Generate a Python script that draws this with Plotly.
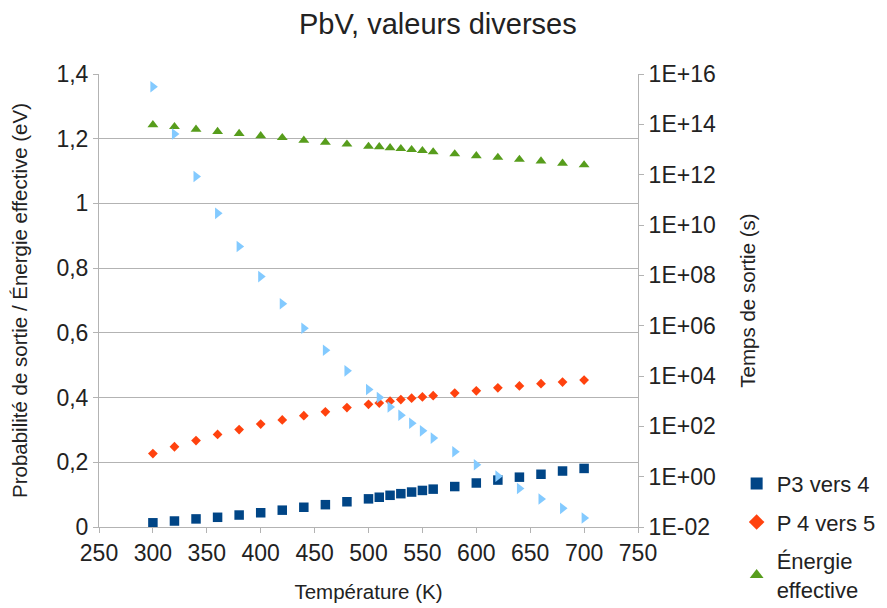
import plotly.graph_objects as go

temperature = [300, 320, 340, 360, 380, 400, 420, 440, 460, 480, 500, 510, 520, 530,
               540, 550, 560, 580, 600, 620, 640, 660, 680, 700]
p3_vers_4 = [0.013, 0.0185, 0.025, 0.030, 0.037, 0.044, 0.052, 0.061, 0.069, 0.078,
             0.087, 0.092, 0.098, 0.103, 0.108, 0.113, 0.117, 0.125, 0.136, 0.145,
             0.154, 0.163, 0.173, 0.181]
p4_vers_5 = [0.227, 0.248, 0.267, 0.286, 0.301, 0.318, 0.331, 0.344, 0.356, 0.369,
             0.379, 0.383, 0.389, 0.394, 0.398, 0.402, 0.406, 0.414, 0.421, 0.430,
             0.436, 0.443, 0.448, 0.454]
energie_effective = [1.243, 1.237, 1.229, 1.222, 1.216, 1.209, 1.203, 1.195, 1.189, 1.183,
                     1.176, 1.175, 1.172, 1.169, 1.166, 1.163, 1.159, 1.153, 1.147, 1.142,
                     1.136, 1.131, 1.124, 1.119]
temps_de_sortie = [3.1e15, 4.1e13, 8.5e11, 2.9e10, 1.4e9, 8.9e7, 7.4e6, 7.9e5, 1.05e5, 1.6e4,
                   2.9e3, 1.4e3, 590, 275, 132, 66, 34, 9.8, 3.0, 1.05,
                   0.34, 0.13, 0.055, 0.023]

right_tick_vals = [1e-2, 1e0, 1e2, 1e4, 1e6, 1e8, 1e10, 1e12, 1e14, 1e16]
right_tick_text = ["1E-02", "1E+00", "1E+02", "1E+04", "1E+06", "1E+08", "1E+10",
                   "1E+12", "1E+14", "1E+16"]

FONT = "Liberation Sans, Arial, sans-serif"
GRID = "#b3b3b3"
TXT = "#222222"

fig = go.Figure()
fig.add_trace(go.Scatter(x=temperature, y=temps_de_sortie, mode="markers", name="Temps de sortie",
                         marker=dict(symbol="triangle-right", size=10, color="#83caff"),
                         yaxis="y2", showlegend=False, legendgroup="g0"))
fig.add_trace(go.Scatter(x=temperature, y=p3_vers_4, mode="markers", name="P3 vers 4",
                         marker=dict(symbol="square", size=9.5, color="#004586"),
                         legendgroup="g1"))
fig.add_trace(go.Scatter(x=temperature, y=p4_vers_5, mode="markers", name="P 4 vers 5",
                         marker=dict(symbol="diamond", size=7.5, color="#ff420e"),
                         legendgroup="g2"))
fig.add_trace(go.Scatter(x=temperature, y=energie_effective, mode="markers",
                         name="Énergie<br>effective",
                         marker=dict(symbol="triangle-up", size=9.5, color="#579d1c"),
                         legendgroup="g3"))

fig.update_layout(
    width=879, height=600,
    paper_bgcolor="white", plot_bgcolor="white",
    separators=", ",
    font=dict(family=FONT, size=20, color=TXT),
    margin=dict(l=91, r=249, t=66, b=81, autoexpand=False),
    title=dict(text="PbV, valeurs diverses", x=0.489, xanchor="center", y=0.974, yanchor="middle",
               font=dict(size=29, color=TXT)),
    xaxis=dict(range=[250, 750], dtick=50, tick0=250, showgrid=False, zeroline=False,
               showline=True, linecolor=GRID, linewidth=1,
               ticks="outside", ticklen=5, tickcolor=GRID,
               tickfont=dict(size=23),
               title=dict(text="Température (K)", font=dict(size=20.5), standoff=20)),
    yaxis=dict(range=[0, 1.4], dtick=0.2, showgrid=True, gridcolor=GRID, zeroline=False,
               showline=True, linecolor=GRID, ticks="outside", ticklen=5, tickcolor=GRID,
               tickfont=dict(size=23),
               title=dict(text="Probabilité de sortie / Énergie effective (eV)",
                          font=dict(size=20.5), standoff=29)),
    yaxis2=dict(type="log", range=[-2, 16], overlaying="y", side="right",
                tickvals=right_tick_vals, ticktext=right_tick_text,
                showgrid=False, zeroline=False, showline=True, linecolor=GRID,
                ticks="outside", ticklen=5, tickcolor=GRID,
                tickfont=dict(size=23),
                title=dict(text="Temps de sortie (s)", font=dict(size=20.5), standoff=25)),
    legend=dict(x=1.183, xanchor="left", y=0.142, yanchor="top", bgcolor="rgba(0,0,0,0)",
                font=dict(size=22), traceorder="grouped", tracegroupgap=7,
                itemsizing="constant"),
    showlegend=True,
)

fig.write_html("out.html")
